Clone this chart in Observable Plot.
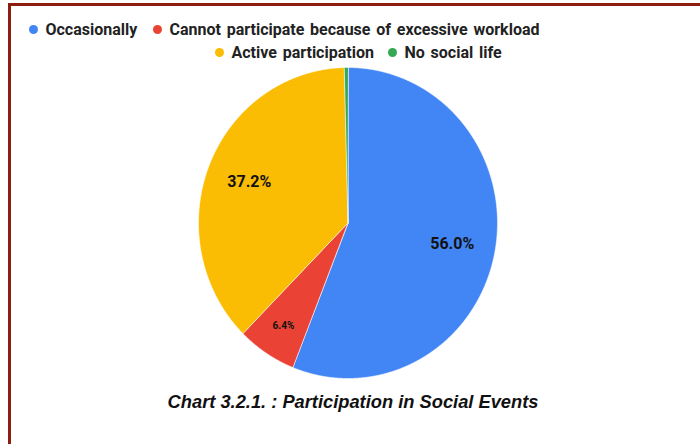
<!DOCTYPE html>
<html>
<head>
<meta charset="utf-8">
<script src="https://cdn.jsdelivr.net/npm/d3@7"></script>
<script src="https://cdn.jsdelivr.net/npm/@observablehq/plot@0.6"></script>
<style>
  html, body { margin: 0; padding: 0; background: #fff; width: 700px; height: 444px; overflow: hidden; }
  #frame { position: absolute; left: 8px; top: 3px; width: 760px; height: 500px;
           border-top: 3px solid #8c1d10; border-left: 3px solid #8c1d10; box-sizing: border-box; }
  .legend { position: absolute; left: 0; width: 700px; height: 20px; line-height: 20px; font-family: Roboto, sans-serif; font-weight: bold;
            font-size: 16px; color: #222; white-space: nowrap; word-spacing: 1.8px; }
  .item { position: absolute; top: 0; }
  .dot { display: inline-block; width: 9px; height: 9px; border-radius: 50%; margin-right: 8px; vertical-align: 1px; }
  #chart { position: absolute; left: 0; top: 62px; }
  #title { position: absolute; left: 0; width: 706px; top: 391px; text-align: center;
           font-family: "Liberation Sans", Arial, sans-serif; font-style: italic; font-weight: bold; font-size: 18.3px; color: #111; }
</style>
</head>
<body>
<div id="frame"></div>
<div id="legend1" class="legend" style="top:20px"></div>
<div id="legend2" class="legend" style="top:42.5px"></div>
<div id="chart"></div>
<div id="title">Chart 3.2.1. : Participation in Social Events</div>
<script>
const categories = ["Occasionally", "Cannot participate because of excessive workload", "Active participation", "No social life"];
const values = [56.0, 6.4, 37.2, 0.4];
const colors = ["#4285f4", "#ea4335", "#fbbc04", "#34a853"];

const data = categories.map((c, i) => ({category: c, value: values[i]}));
const pie = d3.pie().sort(null).value(d => d.value)(data);

// slice outlines (unit circle, angle clockwise from top)
const outline = [];
for (const a of pie) {
  outline.push({category: a.data.category, x: 0, y: 0});
  const n = Math.max(2, Math.ceil((a.endAngle - a.startAngle) / 0.005));
  for (let k = 0; k <= n; k++) {
    const t = a.startAngle + (a.endAngle - a.startAngle) * k / n;
    outline.push({category: a.data.category, x: Math.sin(t), y: Math.cos(t)});
  }
}
const labels = pie.filter(a => a.data.value > 1).map(a => {
  const m = (a.startAngle + a.endAngle) / 2;
  const r = a.data.value < 10 ? 0.79 : 0.71;
  return {x: r * Math.sin(m), y: r * Math.cos(m), text: a.data.value.toFixed(1) + "%", small: a.data.value < 10};
});

const plot = Plot.plot({
  width: 700, height: 320,
  marginLeft: 198, marginRight: 203, marginTop: 5, marginBottom: 4,
  x: {domain: [-1, 1], axis: null},
  y: {domain: [-1, 1], axis: null},
  color: {domain: categories, range: colors},
  marks: [
    Plot.line(outline, {x: "x", y: "y", z: "category", fill: "category", stroke: "white", strokeWidth: 0.6, curve: "linear-closed"}),
    Plot.text(labels.filter(d => !d.small), {x: "x", y: "y", text: "text", fontSize: 16, fontWeight: "bold", fill: "#111", fontFamily: "Roboto, sans-serif"}),
    Plot.text(labels.filter(d => d.small), {x: "x", y: "y", text: "text", fontSize: 10, fontWeight: "bold", fill: "#111", fontFamily: "Roboto, sans-serif"})
  ]
});
document.getElementById("chart").appendChild(plot);

// legend
const pos = [[28.5, "legend1"], [152.5, "legend1"], [214.5, "legend2"], [387.5, "legend2"]];
categories.forEach((c, i) => {
  const el = document.createElement("span");
  el.className = "item";
  el.style.left = pos[i][0] + "px";
  el.innerHTML = `<span class="dot" style="background:${colors[i]}"></span>` + c;
  document.getElementById(pos[i][1]).appendChild(el);
});
</script>
</body>
</html>
